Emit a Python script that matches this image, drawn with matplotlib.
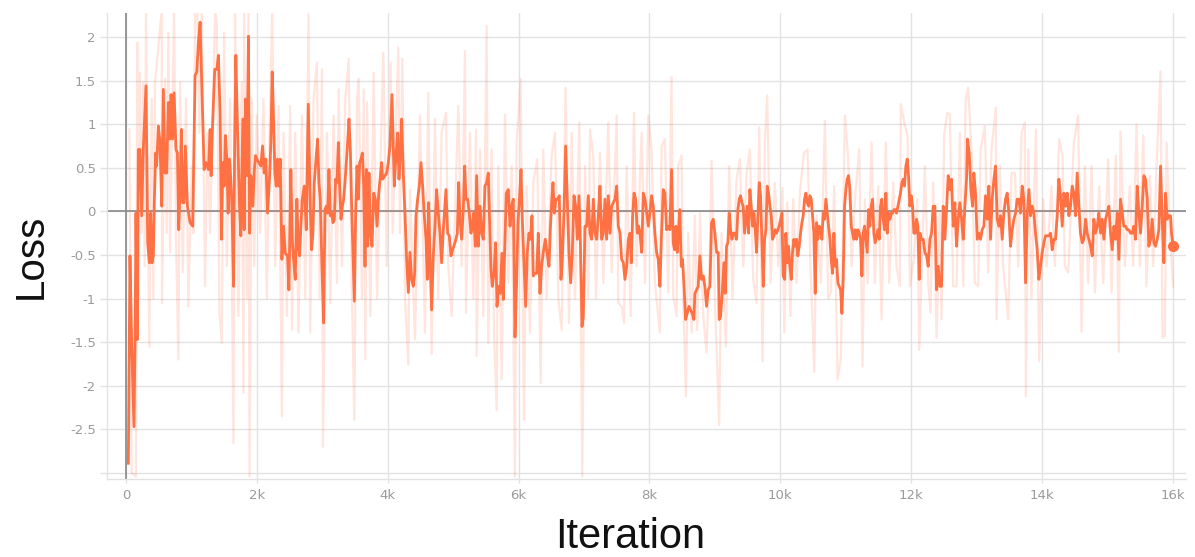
import matplotlib
matplotlib.use('Agg')
import matplotlib.pyplot as plt
from matplotlib import font_manager as fm

# ---------------- data ----------------
smooth_steps = [
    36, 61, 87, 122, 138, 153, 173, 189, 214, 240, 265, 306, 332, 357, 378, 398, 418, 434, 454, 469,
    495, 520, 546, 571, 597, 622, 648, 673, 689, 714, 735, 765, 786, 806, 827, 847, 867, 888, 908, 939,
    980, 1020, 1056, 1082, 1107, 1133, 1163, 1194, 1224, 1260, 1286, 1301, 1321, 1357, 1388, 1413, 1439, 1459, 1480, 1500,
    1520, 1541, 1561, 1582, 1602, 1622, 1643, 1663, 1679, 1704, 1735, 1755, 1786, 1806, 1827, 1847, 1872, 1888, 1908, 1939,
    1959, 1980, 2000, 2031, 2061, 2087, 2112, 2138, 2163, 2194, 2214, 2235, 2255, 2276, 2296, 2316, 2337, 2357, 2383, 2408,
    2434, 2469, 2490, 2520, 2541, 2561, 2587, 2612, 2633, 2653, 2673, 2694, 2725, 2755, 2786, 2816, 2837, 2857, 2878, 2908,
    2929, 2949, 2969, 2995, 3020, 3041, 3061, 3082, 3102, 3122, 3143, 3163, 3184, 3204, 3224, 3245, 3265, 3286, 3306, 3327,
    3347, 3367, 3388, 3408, 3429, 3449, 3469, 3490, 3510, 3531, 3551, 3571, 3592, 3612, 3633, 3653, 3673, 3694, 3714, 3735,
    3760, 3786, 3812, 3837, 3863,
    3907, 3923, 3958, 3984, 4009, 4035, 4065, 4086, 4101, 4126, 4152, 4172, 4193, 4213, 4238, 4264, 4289, 4315, 4340, 4366,
    4391, 4412, 4432, 4457, 4483, 4508, 4534, 4559, 4585, 4605, 4626, 4646, 4671, 4697, 4722, 4748, 4773, 4799, 4824, 4850,
    4890, 4916, 4941, 4967, 4992, 5028, 5064, 5084, 5104, 5130, 5155, 5176, 5196, 5222, 5247, 5272, 5293, 5313, 5339, 5359,
    5385, 5410, 5436, 5461, 5486, 5512, 5537, 5563, 5578, 5598, 5624, 5649, 5670, 5695, 5721, 5746, 5767, 5787, 5812, 5843,
    5869, 5894, 5919, 5945, 5970, 5991, 6016, 6037, 6057, 6082, 6108, 6133, 6159, 6179, 6205, 6225, 6245, 6276, 6301, 6327,
    6352, 6378, 6408, 6434, 6465, 6485, 6505, 6526, 6546, 6571, 6597, 6622, 6648, 6668, 6694, 6719, 6745, 6770, 6796, 6821,
    6847, 6872, 6898, 6923, 6943, 6969, 6989, 7015, 7040, 7066, 7091, 7117, 7142, 7168, 7193, 7218, 7244, 7269, 7295, 7320,
    7346, 7371, 7397, 7422, 7448, 7473, 7499, 7524, 7550, 7575, 7601, 7626, 7652, 7677, 7703, 7723, 7743, 7764, 7789, 7815,
    7835, 7855, 7881, 7906, 7932, 7958, 7983,
    8007, 8032, 8058, 8083, 8109, 8134, 8160, 8185, 8211, 8236, 8262, 8287, 8312, 8338, 8363, 8384, 8404, 8425, 8445, 8465,
    8486, 8506, 8532, 8552, 8577, 8603, 8628, 8654, 8679, 8695, 8720, 8745, 8771, 8796, 8822, 8847, 8873, 8898, 8924, 8949,
    8975, 9000, 9026, 9051, 9066, 9087, 9112, 9138, 9158, 9178, 9199, 9219, 9240, 9260, 9280, 9306, 9331, 9352, 9372, 9392,
    9413, 9433, 9454, 9474, 9494, 9515, 9535, 9555, 9576, 9596, 9617, 9637, 9657, 9678, 9698, 9718, 9739, 9759, 9780, 9800,
    9820, 9841, 9861, 9881, 9902, 9922, 9943, 9963, 9983, 10004, 10024, 10044, 10065, 10085, 10106, 10126, 10146, 10167, 10187, 10207,
    10228, 10248, 10268, 10289, 10309, 10330, 10350, 10370, 10391, 10411, 10432, 10452, 10472, 10493, 10513, 10533, 10554, 10574, 10595, 10615,
    10635, 10656, 10676, 10696, 10717, 10737, 10758, 10778, 10798, 10819, 10839, 10859, 10880, 10900, 10921, 10941, 10961, 10982, 11002, 11022,
    11043, 11063, 11084, 11104, 11124, 11145, 11165, 11186, 11206, 11226, 11247, 11267, 11287, 11308, 11328, 11348, 11369, 11389, 11410, 11430,
    11450, 11471, 11491, 11512, 11532, 11552, 11573, 11593, 11613, 11634, 11654, 11675, 11695, 11715, 11736, 11756, 11776, 11797, 11817, 11837,
    11858, 11878, 11898, 11919, 11940, 11960, 11980, 12001, 12021, 12041, 12062, 12082, 12102, 12123,
    12133, 12158, 12184, 12209, 12235, 12260, 12286, 12311, 12337, 12362, 12388, 12413, 12438, 12464, 12489, 12515, 12540, 12566, 12591, 12617,
    12642, 12668, 12693, 12719, 12744, 12770, 12795, 12821, 12846, 12861, 12887, 12912, 12938, 12958, 12983, 13009, 13034, 13060, 13085, 13111,
    13136, 13162, 13187, 13213, 13238, 13264, 13289, 13315, 13340, 13366, 13391, 13416, 13442, 13467, 13493, 13518, 13544, 13569, 13595, 13620,
    13646, 13671, 13697, 13722, 13748, 13773, 13799, 13824, 13849, 13875, 13900, 13926, 13951, 13977, 14002, 14028, 14053, 14079, 14104, 14130,
    14155, 14181, 14206, 14232, 14257, 14282, 14308, 14333, 14359, 14384, 14410, 14435, 14461, 14486, 14512, 14537, 14563, 14588, 14614, 14639,
    14665, 14690, 14716, 14741, 14767, 14792, 14817, 14843, 14868, 14894, 14919, 14945, 14970, 14996, 15021, 15047, 15072, 15098, 15123, 15149,
    15174, 15199, 15225, 15250, 15276, 15301, 15327, 15352, 15378, 15403, 15429, 15454, 15480, 15505, 15531, 15556, 15581, 15607, 15632, 15658,
    15683, 15709, 15734, 15760, 15785, 15811, 15836, 15862, 15887, 15913, 15938, 15964, 15979, 16004,
]
smooth_loss = [
    -2.89, -0.51, -1.51, -2.47, -1.51, -0.02, -1.47, 0.71, 0.71, -0.05, 0.71, 1.44, -0.36, -0.59, -0.02, -0.59, -0.51, 0.14, 0.67, 0.52,
    0.98, 0.79, 0.06, 1.40, 0.44, 0.44, 1.25, 0.83, 1.34, 0.83, 1.36, 0.71, 0.67, -0.21, 0.29, 0.94, 0.10, 0.10, 0.75, 0.06,
    -0.13, -0.17, 1.56, 1.60, 1.94, 2.17, 1.33, 0.48, 0.56, 0.48, 0.94, 0.41, 0.94, 1.63, 1.63, 1.79, 1.10, -0.32, 0.56, 0.29,
    0.87, 0.60, -0.02, 0.60, 0.37, 0.02, -0.86, 0.94, 1.79, 0.98, 0.06, -0.28, 1.06, -0.21, 1.29, 0.41, 2.01, -0.25, 0.41, 0.06,
    0.44, 0.64, 0.60, 0.56, 0.52, 0.75, 0.44, 0.60, -0.02, 0.37, 0.79, 1.60, 1.06, 0.44, 0.29, 0.60, 0.29, 0.60, -0.55, -0.17,
    -0.48, -0.51, -0.90, 0.48, -0.32, -0.55, -0.78, 0.14, -0.40, -0.51, -0.17, 0.14, 0.29, -0.21, 1.23, 0.06, -0.44, -0.25, 0.33, 0.64,
    0.83, 0.33, 0.14, -0.63, -1.28, 0.02, 0.06, -0.02, 0.48, -0.05, -0.02, -0.13, -0.09, 0.37, 0.33, 0.79, 0.29, -0.09, 0.06, 0.14,
    0.33, 0.56, 0.79, 1.06, 0.71, 0.06, -0.47, -1.03, -0.02, 0.52, 0.14, 0.56, 0.60, 0.67, 0.29, -0.63, 0.48, -0.40, 0.44, -0.25,
    -0.40, 0.21, 0.14, -0.17, 0.21,
    0.56, 0.37, 0.41, 0.44, 0.56, 0.75, 1.34, 0.71, 0.29, 0.64, 0.90, 0.37, 0.67, 1.06, 0.44, -0.02, -0.55, -0.93, -0.47, -0.78,
    -0.86, -0.71, -0.05, 0.14, 0.29, 0.56, 0.29, -0.05, -0.32, -0.78, 0.10, -0.51, -1.13, -0.51, -0.17, 0.25, -0.02, -0.25, -0.59, -0.21,
    0.25, -0.25, -0.28, -0.51, -0.44, -0.36, -0.25, 0.33, -0.09, -0.32, 0.02, 0.52, 0.14, 0.14, -0.02, -0.25, -0.17, -0.02, -0.40, 0.41,
    -0.40, 0.06, -0.25, -0.32, 0.29, 0.33, 0.44, -0.25, -0.67, -0.86, -0.71, -0.36, -1.09, -0.86, -0.94, -0.48, -1.01, -0.48, 0.21, 0.25,
    -0.17, 0.06, 0.14, -1.44, -0.82, -0.13, 0.18, 0.48, -0.09, -0.59, -1.09, -0.47, -0.25, -0.32, -0.05, -0.74, -0.71, -0.71, -0.25, -0.94,
    -0.63, -0.47, -0.32, -0.47, -0.63, -0.21, 0.10, 0.33, -0.02, 0.14, 0.14, 0.18, -0.78, -0.55, -0.02, 0.75, 0.14, -0.47, -0.82, -0.47,
    0.18, 0.06, -0.32, 0.18, -0.32, -1.32, -1.21, -0.17, -0.17, 0.18, -0.25, -0.32, 0.14, -0.25, -0.32, -0.05, 0.29, -0.32, -0.25, 0.14,
    -0.32, 0.18, -0.25, 0.06, 0.10, 0.14, 0.29, -0.17, -0.25, -0.55, -0.59, -0.78, -0.63, -0.32, -0.25, -0.59, -0.05, 0.21, 0.14, -0.25,
    -0.17, -0.25, -0.47, 0.21, 0.14, -0.02, -0.17,
    -0.02, 0.18, 0.06, -0.25, -0.47, -0.55, -0.86, -0.25, 0.25, 0.21, -0.21, -0.17, -0.21, 0.48, -0.36, -0.44, -0.17, -0.47, -0.21, 0.02,
    -0.63, -0.55, -0.90, -1.24, -1.17, -1.09, -1.13, -1.17, -1.24, -0.94, -0.90, -0.86, -0.51, -0.78, -0.74, -0.86, -1.09, -0.90, -0.86, -0.13,
    -0.09, -0.25, -0.47, -0.47, -1.24, -1.21, -0.94, -0.59, -0.94, -0.40, -0.36, -0.02, -0.21, -0.32, -0.25, -0.25, -0.32, 0.02, 0.14, 0.18,
    0.10, 0.06, -0.25, -0.09, 0.06, -0.25, 0.25, 0.06, -0.17, -0.02, -0.21, -0.47, -0.05, 0.33, 0.18, -0.32, -0.86, -0.32, -0.21, 0.29,
    0.21, 0.06, -0.05, -0.32, -0.28, -0.21, -0.25, -0.21, -0.17, -0.09, -0.02, -0.74, -0.78, -0.25, -0.59, -0.40, -0.63, -0.78, -0.47, -0.32,
    -0.40, -0.32, -0.51, -0.40, -0.25, -0.13, -0.05, 0.14, 0.21, 0.10, 0.06, 0.18, 0.14, -0.05, -0.25, -0.94, -0.13, -0.32, -0.17, -0.21,
    -0.32, -0.02, -0.09, 0.14, -0.02, -0.17, -0.32, -0.55, -0.71, -0.25, -0.63, -0.55, -0.82, -0.86, -0.90, -1.17, -0.78, 0.06, 0.25, 0.37,
    0.41, 0.25, -0.17, -0.25, -0.32, -0.21, -0.32, -0.21, -0.25, -0.32, -0.74, -0.25, -0.17, -0.32, -0.47, 0.02, -0.17, 0.06, 0.14, -0.25,
    -0.36, -0.28, -0.21, -0.32, 0.06, 0.14, -0.09, -0.21, 0.21, -0.25, -0.02, -0.09, -0.02, -0.02, 0.02, 0.02, -0.02, 0.06, 0.14, 0.21,
    0.33, 0.37, 0.29, 0.52, 0.60, 0.41, 0.06, 0.18, 0.06, -0.25, -0.25, -0.09, -0.17, -0.78,
    -0.25, -0.32, -0.32, -0.47, -0.51, -0.63, -0.32, -0.25, 0.06, 0.06, -0.90, -0.63, -0.86, -0.86, 0.06, -0.32, 0.02, 0.41, 0.25, 0.37,
    -0.17, 0.10, -0.40, -0.09, 0.10, -0.09, -0.32, 0.06, 0.37, 0.83, 0.67, 0.25, 0.06, 0.44, 0.21, -0.32, -0.25, -0.32, -0.21, -0.17,
    0.18, -0.09, 0.29, -0.32, 0.14, 0.37, 0.52, -0.09, -0.17, -0.05, -0.32, -0.02, 0.14, 0.21, -0.02, -0.40, -0.21, -0.09, -0.02, 0.14,
    0.14, -0.02, 0.29, 0.14, -0.82, -0.05, 0.25, -0.05, 0.06, -0.02, -0.25, -0.44, -0.78, -0.63, -0.47, -0.36, -0.28, -0.28, -0.28, -0.25,
    -0.44, -0.32, -0.32, -0.05, 0.37, 0.18, -0.17, 0.21, 0.06, 0.21, -0.05, 0.06, 0.29, 0.21, -0.05, 0.44, 0.06, -0.25, -0.36, -0.32,
    -0.09, -0.25, -0.32, -0.40, -0.51, -0.09, -0.25, -0.17, -0.02, -0.25, -0.09, -0.32, -0.09, -0.02, 0.06, -0.25, -0.44, -0.17, -0.32, -0.02,
    -0.55, 0.14, -0.02, -0.17, -0.17, -0.21, -0.21, -0.25, -0.25, -0.17, -0.32, 0.29, -0.02, -0.25, 0.06, 0.41, 0.37, 0.14, -0.40, -0.32,
    -0.09, -0.36, -0.40, -0.32, -0.21, 0.52, -0.09, -0.59, 0.21, -0.09, -0.05, -0.05, -0.25, -0.40,
]

raw_steps = [
    51, 87, 153, 173, 194, 214, 240, 265, 286, 306, 357, 393, 418, 444, 546, 551, 597, 622, 648, 673,
    735, 765, 801, 827, 867, 918, 954, 1005, 1031, 1056, 1092, 1122, 1158, 1209, 1245, 1286, 1362, 1388, 1428, 1464,
    1500, 1541, 1592, 1643, 1668, 1719, 1770, 1796, 1806, 1847, 1872, 1888, 1923, 1959, 2000, 2051, 2102, 2153, 2204, 2235,
    2281, 2332, 2383, 2408, 2459, 2510, 2536, 2587, 2638, 2689, 2740, 2791, 2816, 2867, 2918, 2959, 2995, 3010, 3071, 3122,
    3173, 3224, 3250, 3301, 3352, 3403, 3454, 3490, 3531, 3556, 3607, 3633, 3658, 3684, 3735, 3786, 3837,
    3933, 3984, 4045, 4075, 4162, 4187, 4223, 4264, 4315, 4340, 4417, 4493, 4570, 4620, 4671, 4722, 4773, 4824, 4890, 4926,
    4977, 5079, 5130, 5181, 5196, 5257, 5308, 5349, 5359, 5410, 5461, 5512, 5537, 5588, 5624, 5665, 5690, 5741, 5792, 5843,
    5894, 5945, 5970, 6031, 6082, 6123, 6174, 6225, 6286, 6337, 6378, 6429, 6505, 6556, 6607, 6658, 6719, 6770, 6811, 6862,
    6928, 6974, 7015, 7066, 7091, 7142, 7183, 7244, 7295, 7371, 7422, 7499, 7524, 7575, 7611, 7652, 7713, 7764, 7804, 7881,
    7932, 7983,
    8032, 8083, 8160, 8185, 8236, 8287, 8338, 8363, 8414, 8440, 8491, 8516, 8557, 8593, 8644, 8695, 8730, 8771, 8822, 8873,
    8924, 8949, 9000, 9066, 9102, 9168, 9219, 9270, 9331, 9382, 9433, 9484, 9535, 9586, 9637, 9678, 9729, 9764, 9800, 9851,
    9917, 9968, 10034, 10060, 10106, 10156, 10197, 10248, 10299, 10360, 10416, 10462, 10518, 10554, 10620, 10681, 10732, 10773, 10824, 10875,
    10926, 10987, 11038, 11089, 11140, 11206, 11257, 11292, 11333, 11394, 11445, 11496, 11547, 11613, 11664, 11726, 11776, 11827, 11842, 11904,
    11945, 11980, 12041, 12092, 12123,
    12209, 12260, 12296, 12337, 12388, 12438, 12464, 12505, 12551, 12591, 12642, 12693, 12744, 12795, 12831, 12871, 12922, 12973, 13024, 13060,
    13126, 13177, 13228, 13294, 13304, 13355, 13406, 13483, 13534, 13585, 13636, 13687, 13738, 13753, 13788, 13839, 13906, 13956, 14018, 14069,
    14145, 14196, 14262, 14313, 14349, 14400, 14486, 14552, 14603, 14654, 14705, 14756, 14807, 14873, 14934, 15011, 15062, 15128, 15174, 15199,
    15266, 15342, 15393, 15444, 15495, 15546, 15597, 15647, 15699, 15750, 15811, 15841, 15877, 15903, 15954, 16004,
]
raw_loss = [
    0.94, -3.00, -3.04, 1.94, -1.00, 1.59, -0.25, 1.48, -0.63, 2.30, -1.55, 1.29, -1.00, 1.48, 2.30, -1.05, 1.52, -0.25, 2.05, -0.47,
    2.30, -0.32, -1.70, 1.48, -0.70, 1.29, -1.09, 0.52, -0.25, 2.30, 2.30, 0.90, 2.30, -0.86, 0.90, -0.25, 2.30, 2.13, -1.16, -1.51,
    2.05, -0.63, 1.29, -2.66, 2.30, -1.20, 1.48, -2.08, 2.30, -1.00, 2.30, -3.04, 1.29, -0.63, 1.10, -0.25, 1.29, -1.00, 1.29, 2.30,
    -0.63, 1.21, -2.35, 0.90, -1.20, 1.21, -1.36, 0.90, -1.39, 1.10, -1.00, 2.30, -1.39, 1.29, 1.71, -1.00, 1.63, -2.70, 0.90, -1.05,
    1.10, -0.82, 1.40, -0.63, 1.29, 1.75, -1.00, -2.39, 1.29, 1.52, -1.00, 1.40, -1.70, 1.25, -1.20, 1.59, -1.00,
    1.82, -0.63, 1.71, -0.25, 1.88, -0.25, 1.75, -1.00, -1.76, 0.25, -1.47, 1.10, -1.39, 1.36, -1.64, 1.06, -1.00, 0.90, 1.13, -0.63,
    -1.20, 1.21, -0.63, 1.84, -1.16, 0.90, -1.00, 0.94, -1.66, 0.71, -1.20, 2.13, -1.51, 0.71, -1.36, -2.28, 0.52, -1.93, 1.11, -0.82,
    0.52, -3.04, 0.79, 1.52, -2.39, 0.29, -1.39, 0.33, 0.60, -1.97, 0.71, -1.00, 0.64, 0.90, -1.00, -1.36, 1.42, -1.28, 0.90, -1.00,
    1.02, -3.04, 0.52, -1.00, 0.94, 0.64, -1.00, 0.67, -0.82, 1.02, -0.70, 1.10, -1.05, -1.09, -1.28, 0.52, -1.20, 1.13, -0.63, 0.90,
    -0.82, 1.10,
    0.71, -0.82, -1.39, 0.75, 0.83, -0.93, 1.54, -0.97, -1.20, 0.52, 0.64, -1.00, -2.12, -0.25, -1.39, -0.05, -1.36, -0.02, -1.20, -1.62,
    -0.44, 0.58, -1.00, -2.45, -0.25, -1.55, 0.52, -1.00, 0.37, 0.60, -0.63, 0.44, 0.71, -0.78, -1.05, 0.96, -1.72, 0.79, 1.33, -0.82,
    0.33, -0.63, 0.27, -1.39, 0.10, -1.20, 0.14, -0.82, 0.21, 0.67, 0.71, -0.63, -1.84, -0.05, -0.82, 1.04, -1.00, -0.93, 0.29, -1.93,
    -1.68, 1.10, 0.60, -0.63, 0.14, 0.71, -1.78, 0.14, -0.82, 0.79, -0.82, 0.29, -1.24, 0.79, -0.82, 0.33, -0.63, -0.86, 1.23, 0.98,
    0.87, -0.86, -0.55, 0.14, -1.59,
    0.52, -0.82, -1.16, 0.33, -1.45, -0.02, -1.24, 0.88, 1.13, 1.11, -0.86, -0.86, 0.90, -0.86, 1.27, 1.42, 0.71, -0.82, -0.86, 0.71,
    0.98, -0.70, 0.71, 1.19, -1.24, 0.52, -0.63, -1.24, 0.44, 0.44, -0.63, 0.90, 1.02, -2.12, 0.71, -1.00, 0.94, -1.72, 0.14, -0.63,
    0.29, -0.63, 0.83, 0.64, -0.63, -0.70, 0.79, 1.10, -1.38, 0.52, -0.82, 0.52, -0.93, 0.29, -0.82, 0.60, -0.93, 0.64, -1.61, 0.92,
    -0.63, 0.29, -0.63, 1.00, -0.63, 0.87, -0.86, 0.41, -0.63, 0.52, 1.61, -1.45, -1.43, 0.79, -0.25, -0.86,
]

x_ticks = [0, 2000, 4000, 6000, 8000, 10000, 12000, 14000, 16000]
x_tick_labels = ['0', '2k', '4k', '6k', '8k', '10k', '12k', '14k', '16k']
y_ticks = [-3, -2.5, -2, -1.5, -1, -0.5, 0, 0.5, 1, 1.5, 2]
y_tick_labels = ['', '-2.5', '-2', '-1.5', '-1', '-0.5', '0', '0.5', '1', '1.5', '2']

# ---------------- styling ----------------
names = {f.name for f in fm.fontManager.ttflist}
label_font = 'Liberation Sans' if 'Liberation Sans' in names else 'DejaVu Sans'

ORANGE = '#FF7043'
GRID = '#e2e2e2'
TICKTXT = '#9b9b9b'

W, H = 1195, 557
fig = plt.figure(figsize=(W / 100, H / 100), dpi=100)
ax = fig.add_axes([107 / W, 1 - 479 / H, (1186 - 107) / W, (479 - 13) / H])

ax.plot(raw_steps, raw_loss, color=ORANGE, alpha=0.18, lw=1.6, zorder=2)
ax.plot(smooth_steps, smooth_loss, color=ORANGE, lw=2.0, zorder=3, solid_joinstyle='round')
ax.plot([smooth_steps[-1]], [smooth_loss[-1]], 'o', color=ORANGE, ms=7, zorder=4)

ax.axhline(0, color='#8f8f8f', lw=1.3, zorder=1.5)
ax.axvline(0, color='#8f8f8f', lw=1.3, zorder=1.5)

ax.set_xlim(-290, 16200)
ax.set_ylim(-3.07, 2.276)
ax.set_xticks(x_ticks)
ax.set_xticklabels(x_tick_labels)
ax.set_yticks(y_ticks)
ax.set_yticklabels(y_tick_labels)

ax.grid(True, color=GRID, lw=1.0, zorder=0)
ax.set_axisbelow(True)
for s in ['top', 'right']:
    ax.spines[s].set_visible(False)
for s in ['left', 'bottom']:
    ax.spines[s].set_color(GRID)
    ax.spines[s].set_linewidth(1.0)

ax.tick_params(axis='y', length=5, width=1, color=GRID, labelcolor=TICKTXT, labelsize=9.5, pad=3)
ax.tick_params(axis='x', length=3, width=1, color=GRID, labelcolor=TICKTXT, labelsize=9.5, pad=4)

fig.text(31 / W, 1 - 256 / H, 'Loss', rotation=90, fontsize=29, family=label_font,
         ha='center', va='center', color='#111111')
fig.text(630 / W, 1 - 548 / H, 'Iteration', fontsize=30, family=label_font,
         ha='center', va='baseline', color='#111111')

fig.savefig('out.png', dpi=100)
